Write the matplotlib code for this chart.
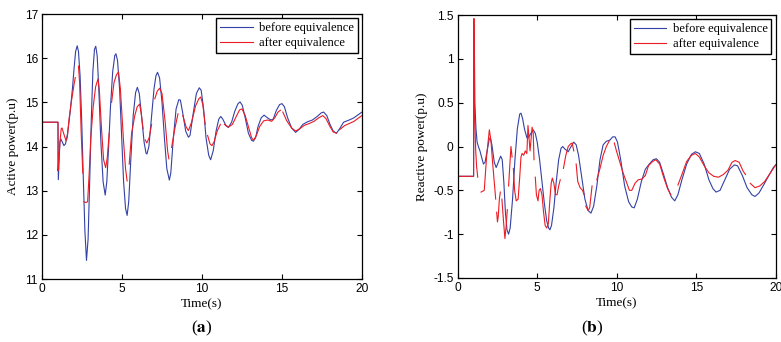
import numpy as np
import matplotlib
matplotlib.use("Agg")
import matplotlib.pyplot as plt

nan = np.nan

# ---- (a) active power ----
t_a_before = [0, 1.0, 1.02, 1.06, 1.12, 1.18, 1.27, 1.37, 1.47, 1.6, 1.75, 1.9, 2.0, 2.1, 2.2, 2.28,
              2.38, 2.48, 2.58, 2.68, 2.78, 2.88, 2.98, 3.08, 3.18, 3.28, 3.36, 3.45, 3.55, 3.68, 3.82,
              3.95, 4.05, 4.15, 4.28, 4.42, 4.55, 4.62, 4.72, 4.85, 4.98, 5.1, 5.22, 5.32, 5.42, 5.55,
              5.7, 5.85, 5.96, 6.08, 6.22, 6.38, 6.5, 6.56, 6.68, 6.85, 7.0, 7.12, 7.22, 7.35, 7.5,
              7.65, 7.8, 7.96, 8.05, 8.2, 8.38, 8.55, 8.65, 8.8, 8.98, 9.15, 9.25, 9.45, 9.65, 9.83,
              9.95, 10.1, 10.25, 10.42, 10.54, 10.7, 10.88, 11.05, 11.17, 11.3, 11.5, 11.65, 11.85,
              12.05, 12.25, 12.38, 12.52, 12.7, 12.9, 13.1, 13.21, 13.35, 13.5, 13.7, 13.88, 14.05,
              14.3, 14.45, 14.65, 14.85, 15.0, 15.15, 15.35, 15.6, 15.85, 16.05, 16.3, 16.6, 16.9,
              17.2, 17.45, 17.6, 17.8, 18.0, 18.2, 18.4, 18.6, 18.85, 19.2, 19.5, 19.8, 20.0]
p_a_before = [14.55, 14.55, 13.25, 13.6, 14.1, 14.17, 14.1, 14.02, 14.06, 14.3, 14.75, 15.3, 15.75,
              16.15, 16.28, 16.15, 15.6, 14.6, 13.3, 12.1, 11.42, 11.9, 13.2, 14.6, 15.7, 16.2, 16.27,
              16.05, 15.3, 14.1, 13.2, 12.9, 13.2, 13.9, 14.9, 15.7, 16.06, 16.1, 15.95, 15.3, 14.2,
              13.2, 12.6, 12.44, 12.75, 13.7, 14.7, 15.22, 15.34, 15.2, 14.7, 14.1, 13.85, 13.83, 14.0,
              14.7, 15.3, 15.6, 15.68, 15.55, 15.0, 14.2, 13.5, 13.24, 13.4, 14.15, 14.85, 15.06, 15.05,
              14.75, 14.35, 14.21, 14.25, 14.75, 15.2, 15.33, 15.27, 14.85, 14.2, 13.8, 13.7, 13.9,
              14.35, 14.62, 14.68, 14.62, 14.47, 14.43, 14.55, 14.8, 14.97, 15.01, 14.93, 14.65, 14.3,
              14.14, 14.12, 14.2, 14.45, 14.65, 14.71, 14.66, 14.6, 14.62, 14.82, 14.95, 14.97, 14.9,
              14.65, 14.42, 14.32, 14.38, 14.5, 14.56, 14.6, 14.68, 14.76, 14.78, 14.7, 14.5, 14.35,
              14.3, 14.4, 14.55, 14.6, 14.65, 14.73, 14.78]

t_a_after = [0, 1.0, 1.0, 1.05, 1.12, 1.2, 1.25, 1.35, 1.5, 1.58, 1.7, 1.85, 2.0, 2.08, nan,
             2.28, 2.35, 2.45, 2.55, nan, 2.62, 2.75, 2.85, 2.95, 3.05, 3.2, 3.35, 3.5, 3.58, 3.72,
             3.85, 3.98, 4.08, 4.2, nan, 4.35, 4.5, 4.65, 4.78, 4.9, 5.0, 5.1, 5.22, 5.32, nan,
             5.45, 5.6, 5.8, 5.95, 6.1, 6.2, 6.32, nan, 6.45, 6.55, 6.7, 6.85, nan, 7.05, 7.2, 7.35,
             7.5, 7.7, 7.85, 7.93, nan, 8.1, 8.3, 8.5, nan, 8.8, 9.0, 9.15, 9.35, 9.6, 9.8, 9.92,
             10.05, 10.2, nan, 10.35, 10.5, 10.62, 10.75, 10.95, 11.15, nan, 11.4, 11.65, 11.9,
             12.1, 12.35, 12.5, 12.7, 12.9, 13.1, 13.22, 13.4, 13.6, 13.85, 14.1, 14.35, 14.55,
             14.75, 14.9, nan, 15.05, 15.3, 15.6, 15.85, 16.1, 16.4, 16.7, 17.0, 17.3, 17.55, 17.75,
             18.0, 18.2, 18.4, nan, 18.6, 18.9, 19.2, 19.5, 19.8, 20.0]
p_a_after = [14.55, 14.55, 13.45, 13.7, 14.1, 14.4, 14.42, 14.3, 14.13, 14.2, 14.65, 15.05, 15.4,
             15.56, nan, 15.82, 15.45, 14.3, 13.4, nan, 12.75, 12.73, 12.75, 13.4, 14.2, 14.9, 15.35,
             15.53, 15.3, 14.4, 13.7, 13.52, 13.75, 14.3, nan, 15.0, 15.45, 15.62, 15.69, 15.3, 14.7,
             14.1, 13.5, 13.22, nan, 13.6, 14.3, 14.7, 14.9, 14.96, 14.75, 14.4, nan, 14.15, 14.08,
             14.2, 14.5, nan, 15.08, 15.25, 15.32, 15.2, 14.55, 13.9, 13.72, nan, 13.98, 14.4, 14.74,
             nan, 14.7, 14.45, 14.36, 14.55, 14.92, 15.08, 15.12, 14.95, 14.5, nan, 14.25, 14.06,
             14.02, 14.1, 14.35, 14.5, nan, 14.5, 14.44, 14.5, 14.65, 14.83, 14.85, 14.7, 14.45,
             14.2, 14.14, 14.25, 14.45, 14.58, 14.6, 14.57, 14.65, 14.78, 14.82, nan, 14.78, 14.58,
             14.42, 14.35, 14.4, 14.48, 14.52, 14.57, 14.65, 14.7, 14.63, 14.45, 14.33, 14.3, nan,
             14.38, 14.47, 14.52, 14.57, 14.65, 14.7]

# ---- (b) reactive power ----
t_b_before = [0, 1.0, 1.01, 1.04, 1.08, 1.15, 1.22, 1.3, 1.4, 1.5, 1.62, 1.72, 1.85, 1.98, 2.05, 2.15,
              2.3, 2.42, 2.55, 2.7, 2.8, 2.9, 3.0, 3.1, 3.2, 3.3, 3.45, 3.6, 3.75, 3.9, 3.98, 4.08,
              4.2, 4.35, 4.45, 4.6, 4.75, 4.88, 5.0, 5.15, 5.3, 5.45, 5.6, 5.72, 5.8, 5.9, 6.05, 6.2,
              6.35, 6.5, 6.6, 6.75, 6.95, 7.1, 7.3, 7.45, 7.6, 7.8, 8.0, 8.2, 8.38, 8.55, 8.75, 8.95,
              9.15, 9.35, 9.55, 9.75, 9.9, 10.05, 10.25, 10.5, 10.75, 10.95, 11.1, 11.3, 11.55, 11.8,
              12.05, 12.3, 12.5, 12.7, 12.95, 13.2, 13.45, 13.65, 13.85, 14.1, 14.4, 14.7, 14.95,
              15.2, 15.5, 15.8, 16.05, 16.25, 16.5, 16.8, 17.1, 17.4, 17.6, 17.9, 18.2, 18.5, 18.7,
              18.95, 19.3, 19.6, 19.85, 20.0]
q_b_before = [-0.34, -0.34, 0.9, 1.31, 0.5, 0.2, 0.05, 0.0, -0.05, -0.12, -0.2, -0.18, -0.05, 0.08,
              0.1, 0.02, -0.18, -0.24, -0.18, -0.11, -0.15, -0.4, -0.75, -0.95, -1.0, -0.93, -0.6,
              -0.15, 0.2, 0.37, 0.38, 0.32, 0.2, 0.1, 0.1, 0.15, 0.19, 0.15, 0.05, -0.15, -0.4, -0.65,
              -0.85, -0.93, -0.95, -0.9, -0.7, -0.4, -0.15, -0.02, 0.0, -0.03, -0.06, -0.01, 0.05,
              0.02, -0.1, -0.35, -0.6, -0.73, -0.76, -0.68, -0.45, -0.15, 0.02, 0.06, 0.07, 0.11,
              0.11, 0.05, -0.15, -0.45, -0.63, -0.69, -0.7, -0.6, -0.4, -0.26, -0.2, -0.15, -0.14,
              -0.18, -0.32, -0.47, -0.58, -0.62, -0.55, -0.38, -0.2, -0.09, -0.06, -0.08, -0.2,
              -0.38, -0.48, -0.52, -0.5, -0.38, -0.26, -0.21, -0.22, -0.33, -0.47, -0.55, -0.57,
              -0.53, -0.42, -0.32, -0.24, -0.21]

t_b_after = [0, 1.0, 1.02, 1.05, 1.13, 1.19, 1.26, nan, 1.47, 1.67, 1.82, 1.99, 2.09, 2.18, 2.3,
             2.39, nan, 2.45, 2.5, 2.55, 2.62, 2.68, nan, 2.78, 2.88, 2.97, 3.05, 3.12, nan, 3.2,
             3.28, 3.35, 3.42, nan, 3.5, 3.58, 3.68, 3.8, 3.9, 3.98, 4.05, 4.15, 4.25, 4.35, 4.42,
             4.48, 4.55, 4.62, 4.68, 4.75, 4.8, nan, 4.88, 4.95, 5.05, 5.12, 5.2, 5.3, 5.4, 5.5,
             5.6, 5.7, 5.8, 5.88, 5.95, 6.05, 6.15, 6.25, 6.35, 6.45, nan, 6.65, 6.8, 6.95, 7.1,
             7.2, 7.3, nan, 7.45, 7.55, 7.7, 7.85, 7.95, nan, 8.05, 8.2, 8.3, 8.45, nan, 8.75,
             8.95, 9.15, 9.35, 9.55, nan, 9.85, 10.0, 10.2, 10.4, 10.6, 10.8, 10.95, 11.15, 11.35,
             11.6, 11.8, 12.0, 12.2, 12.45, 12.7, 12.95, 13.2, 13.4, nan, 13.85, 14.1, 14.4, 14.7,
             14.95, 15.2, 15.5, 15.8, 16.1, 16.4, 16.7, 17.0, 17.25, 17.45, 17.7, 17.95, 18.1, nan,
             18.4, 18.7, 19.0, 19.3, 19.6, 19.85, 20.0]
q_b_after = [-0.34, -0.34, 1.46, 0.49, -0.04, -0.23, -0.35, nan, -0.52, -0.5, -0.11, 0.19, 0.07,
             -0.15, -0.4, -0.6, nan, -0.75, -0.86, -0.8, -0.6, -0.52, nan, -0.6, -0.85, -1.05, -0.9,
             -0.72, nan, -0.45, -0.2, 0.0, -0.12, nan, -0.25, -0.5, -0.62, -0.6, -0.35, -0.12,
             -0.08, -0.1, -0.05, -0.08, 0.24, 0.1, -0.05, 0.1, 0.22, 0.15, -0.15, nan, -0.35, -0.55,
             -0.62, -0.5, -0.48, -0.55, -0.75, -0.9, -0.93, -0.88, -0.6, -0.42, -0.36, -0.42, -0.55,
             -0.55, -0.45, -0.38, nan, -0.25, -0.1, 0.0, 0.03, 0.04, -0.05, nan, -0.2, -0.4, -0.47,
             -0.5, -0.55, nan, -0.68, -0.73, -0.7, -0.45, nan, -0.38, -0.25, -0.1, 0.0, 0.07, nan,
             0.04, -0.06, -0.18, -0.3, -0.4, -0.5, -0.5, -0.42, -0.38, -0.37, -0.33, -0.22, -0.18,
             -0.15, -0.2, -0.35, -0.48, -0.55, nan, -0.44, -0.32, -0.17, -0.1, -0.08, -0.12, -0.22,
             -0.3, -0.34, -0.35, -0.32, -0.27, -0.18, -0.16, -0.18, -0.28, -0.32, nan, -0.42, -0.47,
             -0.45, -0.4, -0.32, -0.25, -0.21]

x_ticks = [0, 5, 10, 15, 20]
y_ticks_a = [11, 12, 13, 14, 15, 16, 17]
y_ticks_b = [-1.5, -1, -0.5, 0, 0.5, 1, 1.5]
y_ticklabels_b = ["-1.5", "-1", "-0.5", "0", "0.5", "1", "1.5"]
legend_labels = ["before equivalence", "after equivalence"]

BLUE = "#3341a6"
RED = "#ec1c24"

plt.rcParams["mathtext.fontset"] = "stix"
SERIF = ["Liberation Serif", "DejaVu Serif"]
SANS = ["Liberation Sans", "DejaVu Sans"]

fig = plt.figure(figsize=(7.81, 3.42), dpi=100)
ax_a = fig.add_axes([42 / 781, 1 - 279 / 342, 320 / 781, 265 / 342])
ax_b = fig.add_axes([457.7 / 781, 1 - 278 / 342, 318 / 781, 263 / 342])


def style_axes(ax, yticks, yticklabels, ylim, ylabel):
    ax.set_xlim(0, 20)
    ax.set_ylim(*ylim)
    ax.set_xticks(x_ticks)
    ax.set_yticks(yticks)
    ax.set_xticklabels([str(v) for v in x_ticks], family=SANS, fontsize=8.6)
    ax.set_yticklabels(yticklabels, family=SANS, fontsize=8.6)
    ax.tick_params(direction="in", length=3.5, width=0.8, top=True, right=True, pad=3)
    for s in ax.spines.values():
        s.set_linewidth(0.9)
    ax.set_xlabel("Time(s)", family=SERIF, fontsize=9.5, labelpad=2)
    ax.set_ylabel(ylabel, family=SERIF, fontsize=9.5, labelpad=4)
    leg = ax.legend(legend_labels, loc="upper right", prop={"family": SERIF, "size": 9},
                    fancybox=False, framealpha=1, edgecolor="black", borderaxespad=0.35,
                    handlelength=2.6, handletextpad=0.5, borderpad=0.3, labelspacing=0.25)
    leg.get_frame().set_linewidth(1.0)


ax_a.plot(t_a_before, p_a_before, color=BLUE, lw=0.8)
ax_a.plot(t_a_after, p_a_after, color=RED, lw=0.8)
style_axes(ax_a, y_ticks_a, [str(v) for v in y_ticks_a], (11, 17), "Active power(p.u)")

ax_b.plot(t_b_before, q_b_before, color=BLUE, lw=0.8)
ax_b.plot(t_b_after, q_b_after, color=RED, lw=0.8)
style_axes(ax_b, y_ticks_b, y_ticklabels_b, (-1.5, 1.5), "Reactive power(p.u)")

fig.text(202 / 781, 1 - 328 / 342, r"($\mathbf{a}$)", ha="center", va="center",
         family=SERIF, fontsize=12.5)
fig.text(592 / 781, 1 - 328 / 342, r"($\mathbf{b}$)", ha="center", va="center",
         family=SERIF, fontsize=12.5)

fig.savefig("out.png", dpi=100)
